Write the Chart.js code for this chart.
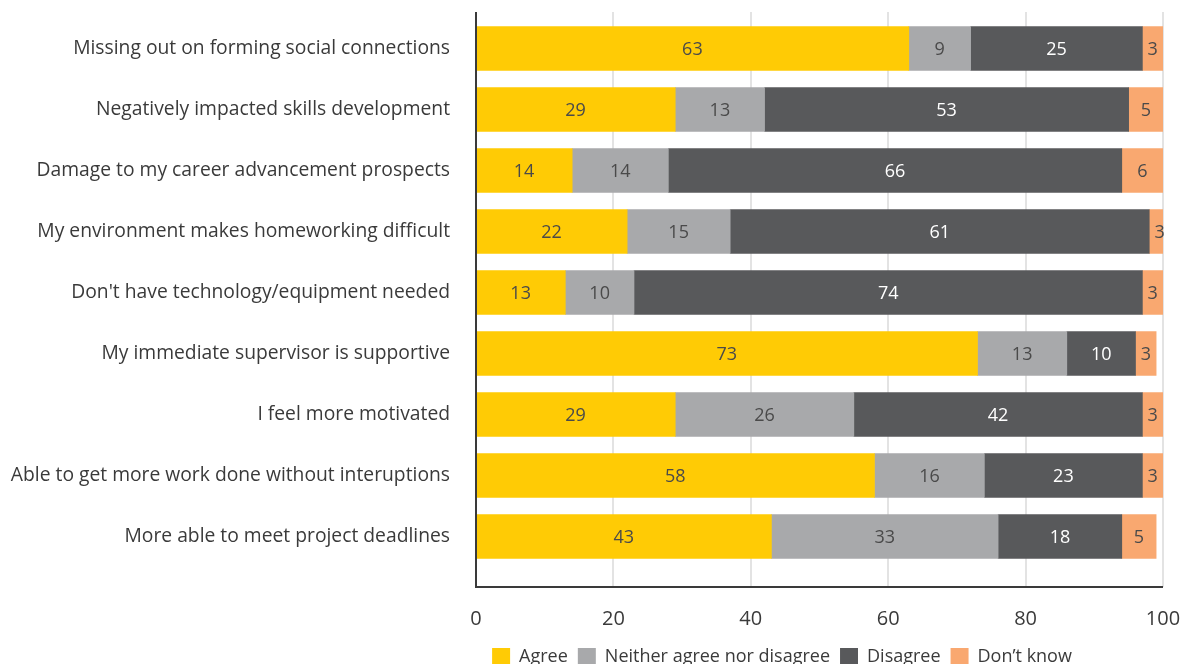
<!DOCTYPE html>
<html>
<head>
<meta charset="utf-8">
<script src="https://cdn.jsdelivr.net/npm/chart.js@4"></script>
<style>
  html, body { margin: 0; padding: 0; background: #fff; overflow: hidden; }
  canvas { display: block; }
</style>
</head>
<body>
<canvas id="chart" width="1194" height="676"></canvas>
<script>
// Категории и значения (в процентах)
const categories = [
  'Missing out on forming social connections',
  'Negatively impacted skills development',
  'Damage to my career advancement prospects',
  'My environment makes homeworking difficult',
  "Don't have technology/equipment needed",
  'My immediate supervisor is supportive',
  'I feel more motivated',
  'Able to get more work done without interuptions',
  'More able to meet project deadlines'
];
const seriesNames = ['Agree', 'Neither agree nor disagree', 'Disagree', 'Don\u2019t know'];
const agree    = [63, 29, 14, 22, 13, 73, 29, 58, 43];
const neither  = [9, 13, 14, 15, 10, 13, 26, 16, 33];
const disagree = [25, 53, 66, 61, 74, 10, 42, 23, 18];
const dontKnow = [3, 5, 6, 3, 3, 3, 3, 3, 5];
const xTicks = [0, 20, 40, 60, 80, 100];

const colors = ['#FFCB05', '#A8A9AB', '#58595B', '#F9A870'];
const labelColors = ['#4a4a4a', '#4a4a4a', '#ffffff', '#4a4a4a'];
const fontFamily = '"Open Sans", sans-serif';

// Сетка и оси рисуем сами, чтобы линии выходили за область баров
const framePlugin = {
  id: 'frame',
  afterLayout(chart) {
    // легенда центрируется под областью графика, а не под всем холстом
    chart.legend.left = 370;
    chart.legend.right = 1194;
  },
  beforeDatasetsDraw(chart) {
    const { ctx, scales } = chart;
    const top = 12, bottom = 587;
    ctx.save();
    ctx.strokeStyle = '#e3e3e3';
    ctx.lineWidth = 2;
    xTicks.slice(1).forEach(v => {
      const x = Math.round(scales.x.getPixelForValue(v));
      ctx.beginPath();
      ctx.moveTo(x, top);
      ctx.lineTo(x, bottom);
      ctx.stroke();
    });
    ctx.restore();
  },
  afterDatasetsDraw(chart) {
    const { ctx, scales } = chart;
    const top = 12, bottom = 587;
    const x0 = scales.x.getPixelForValue(0);
    const x1 = scales.x.getPixelForValue(100);
    ctx.save();
    ctx.strokeStyle = '#3a3a3a';
    ctx.lineWidth = 2;
    ctx.beginPath();
    ctx.moveTo(x0, top);
    ctx.lineTo(x0, bottom);
    ctx.lineTo(x1, bottom);
    ctx.stroke();

    // Подписи значений в центре сегментов
    ctx.font = '18px ' + fontFamily;
    ctx.textAlign = 'center';
    ctx.textBaseline = 'middle';
    chart.data.datasets.forEach((ds, i) => {
      const meta = chart.getDatasetMeta(i);
      meta.data.forEach((bar, j) => {
        const p = bar.getProps(['x', 'y', 'base'], true);
        ctx.fillStyle = labelColors[i];
        ctx.fillText(String(ds.data[j]), (p.x + p.base) / 2, p.y + 1);
      });
    });
    ctx.restore();
  }
};

new Chart(document.getElementById('chart'), {
  type: 'bar',
  data: {
    labels: categories,
    datasets: [agree, neither, disagree, dontKnow].map((d, i) => ({
      label: seriesNames[i],
      data: d,
      backgroundColor: colors[i],
      borderWidth: 0,
      barThickness: 44
    }))
  },
  options: {
    indexAxis: 'y',
    responsive: false,
    animation: false,
    layout: { padding: { top: 18, right: 31, left: 0, bottom: 0 } },
    scales: {
      x: {
        stacked: true,
        min: 0,
        max: 100,
        afterBuildTicks: axis => { axis.ticks = xTicks.map(v => ({ value: v })); },
        grid: { display: false, drawTicks: false },
        border: { display: false },
        ticks: { color: '#3a3a3a', padding: 40, font: { family: fontFamily, size: 20 } },
        afterFit: axis => {
          axis.height = 71;
          axis.paddingLeft = 0;
          axis.paddingRight = 0;
        }
      },
      y: {
        stacked: true,
        grid: { display: false, drawTicks: false },
        border: { display: false },
        ticks: { color: '#3a3a3a', padding: 26, font: { family: fontFamily, size: 19.3 } },
        afterFit: axis => {
          axis.width = 476;
          axis.paddingTop = 0;
          axis.paddingBottom = 0;
        }
      }
    },
    plugins: {
      legend: {
        position: 'bottom',
        labels: {
          color: '#3a3a3a',
          boxWidth: 18,
          boxHeight: 18,
          padding: 10,
          font: { family: fontFamily, size: 18 }
        }
      },
      tooltip: { enabled: false }
    }
  },
  plugins: [framePlugin]
});
</script>
</body>
</html>
